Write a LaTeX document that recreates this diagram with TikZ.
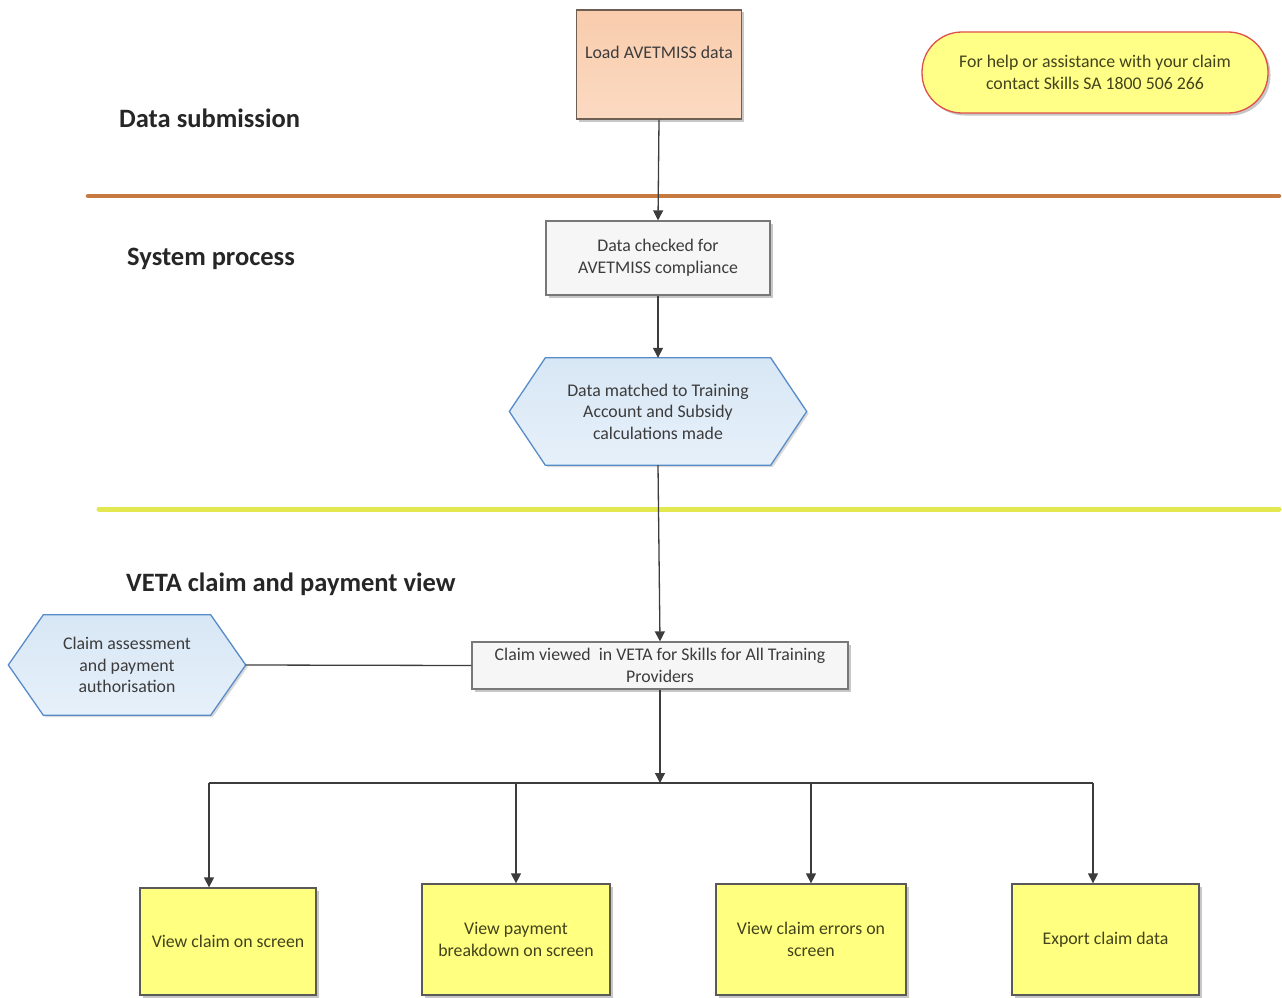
\documentclass[tikz,border=0pt]{standalone}
\usepackage{fontspec}
\setmainfont{Carlito}
\usetikzlibrary{arrows.meta,shadows,calc,backgrounds}
\definecolor{peach}{RGB}{249,204,172}
\definecolor{peachlt}{RGB}{251,218,194}
\definecolor{peachedge}{RGB}{110,95,85}
\definecolor{helpfill}{RGB}{255,255,136}
\definecolor{helpedge}{RGB}{224,80,74}
\definecolor{orangeline}{RGB}{198,122,64}
\definecolor{yellowline}{RGB}{228,232,80}
\definecolor{hexfill}{RGB}{216,231,245}
\definecolor{hexfilllt}{RGB}{230,240,250}
\definecolor{hexedge}{RGB}{88,140,200}
\definecolor{boxfill}{RGB}{255,255,128}
\definecolor{boxedge}{RGB}{90,90,90}
\definecolor{grayfill}{RGB}{246,246,246}
\definecolor{grayedge}{RGB}{120,120,120}
\definecolor{txt}{RGB}{60,60,60}
\definecolor{oltxt}{RGB}{66,66,28}
\definecolor{connector}{RGB}{60,60,60}
\begin{document}
\begin{tikzpicture}[x=1pt,y=-1pt,
  bodyfont/.style={font=\fontsize{17.8}{21.5}\selectfont},
  heading/.style={font=\fontsize{26.5}{30}\selectfont\bfseries, text=black!85, anchor=west, inner sep=0pt},
  shadowed/.style={drop shadow={shadow xshift=2.5pt, shadow yshift=-2.5pt, fill=black, opacity=0.22}},
  loadbox/.style={draw=peachedge, line width=1.3pt, top color=peach, bottom color=peachlt, minimum width=165pt, minimum height=109pt, shadowed},
  graybox/.style={draw=grayedge, line width=1.2pt, fill=grayfill, minimum width=#1, align=center, bodyfont, text=txt, shadowed},
  yellowbox/.style={draw=boxedge, line width=1.3pt, fill=boxfill, minimum height=107pt, minimum width=#1, align=center, bodyfont, text=oltxt, shadowed},
  helpbox/.style={draw=helpedge, line width=1.3pt, fill=helpfill, rounded corners=40pt, minimum width=346pt, minimum height=81pt, align=center, bodyfont, text=oltxt, shadowed},
  hexcore/.style={inner sep=0pt, align=center, bodyfont, text=txt},
  hexshape/.style={draw=hexedge, line width=1.3pt, top color=hexfill, bottom color=hexfilllt, drop shadow={shadow xshift=2pt, shadow yshift=-2pt, fill=black, opacity=0.15}},
  conn/.style={draw=connector, line width=1.3pt},
  arrow/.style={conn, -{Triangle[length=10pt,width=10pt]}},
  sepline/.style={line width=#1, line cap=round}
]
\useasboundingbox (0,0) rectangle (1282,998);

% separator lines
\draw[sepline=4.5pt, orangeline] (88,196) -- (1279,196);
\draw[sepline=5pt, yellowline] (99,509) -- (1279,509);

% headings
\node[heading] (h1) at (119,118) {Data submission};
\node[heading] (h2) at (127,259) {System process};
\node[heading] (h3) at (126,584) {VETA claim and payment view};

% top box
\node[loadbox] (load) at (659,64.5) {};
\node[bodyfont, text=txt] (loadtxt) at (659,52) {Load AVETMISS data};

% help box
\node[helpbox] (help) at (1095,72.5) {For help or assistance with your claim\\contact Skills SA 1800 506 266};

% data checked
\node[graybox=224pt, minimum height=74pt] (check) at (658,258) {Data checked for\\AVETMISS compliance};

% hexagon 1
\node[hexcore, minimum width=225pt, minimum height=107pt] (hex1) at (658,411.5) {Data matched to Training\\Account and Subsidy\\calculations made};
\begin{scope}[on background layer]
\draw[hexshape] (hex1.north west) -- (hex1.north east) -- ($(hex1.east)+(36,0)$) -- (hex1.south east) -- (hex1.south west) -- ($(hex1.west)+(-36,0)$) -- cycle;
\end{scope}

% claim viewed
\node[graybox=376pt, minimum height=47pt, inner sep=2pt] (claim) at (660,665.5) {Claim viewed\ \ in VETA for Skills for All Training\\Providers};

% hexagon 2
\node[hexcore, minimum width=167pt, minimum height=100pt] (hex2) at (127,665) {Claim assessment\\and payment\\authorisation};
\coordinate (hex2tip) at ($(hex2.east)+(35,0)$);
\begin{scope}[on background layer]
\draw[hexshape] (hex2.north west) -- (hex2.north east) -- (hex2tip) -- (hex2.south east) -- (hex2.south west) -- ($(hex2.west)+(-35,0)$) -- cycle;
\end{scope}

% bottom boxes
\node[yellowbox=176pt] (b1) at (228,941.5) {View claim on screen};
\node[yellowbox=188pt, minimum height=111pt] (b2) at (516,939.5) {View payment\\breakdown on screen};
\node[yellowbox=190pt, minimum height=111pt] (b3) at (811,939.5) {View claim errors on\\screen};
\node[yellowbox=187pt, minimum height=111pt] (b4) at (1105.5,939.5) {Export claim data};

% bus coordinates
\coordinate (busmid) at (660,783);
\coordinate (bus1) at (209,783);
\coordinate (bus2) at (516,783);
\coordinate (bus3) at (811,783);
\coordinate (bus4) at (1093,783);

% connectors
\draw[arrow] (load.south) -- (check.north);
\draw[arrow] (check.south) -- (hex1.north);
\draw[arrow] (hex1.south) -- (claim.north);
\draw[conn] (hex2tip) -- (claim.west);
\draw[arrow] (claim.south) -- (busmid);
\draw[conn] (bus1) -- (bus4);
\draw[arrow] (bus1) -- (bus1 |- b1.north);
\draw[arrow] (bus2) -- (bus2 |- b2.north);
\draw[arrow] (bus3) -- (bus3 |- b3.north);
\draw[arrow] (bus4) -- (bus4 |- b4.north);
\end{tikzpicture}
\end{document}
